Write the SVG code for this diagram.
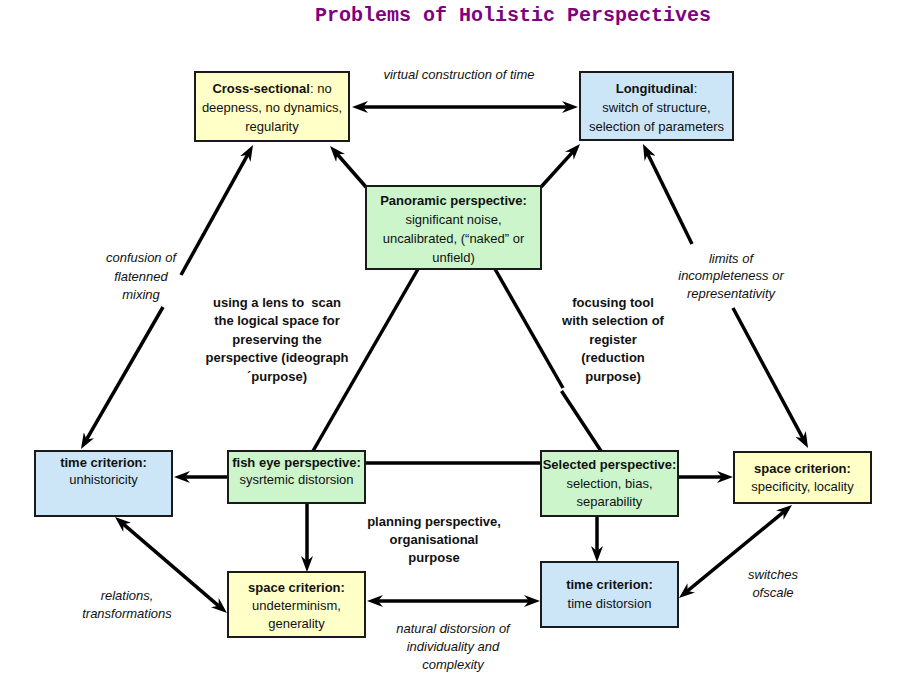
<svg xmlns="http://www.w3.org/2000/svg" width="908" height="700" viewBox="0 0 908 700">
<style>
  .box { stroke: #1a1a1a; stroke-width: 2; }
  .yel { fill: #ffffc8; }
  .blu { fill: #cce6f8; }
  .grn { fill: #ccf5cc; }
  text { font-family: "Liberation Sans", Arial, sans-serif; font-size: 13px; fill: #111; text-anchor: middle; }
  .b { font-weight: bold; }
  .i { font-style: italic; }
  .title { font-family: "Liberation Mono", "Courier New", monospace; font-size: 20px; font-weight: bold; fill: #800080; }
  .ln { stroke: #000; stroke-width: 3.5; fill: none; }
  .a2 { marker-start: url(#ah); marker-end: url(#ah); }
  .a1 { marker-end: url(#ah); }
</style>
<defs>
  <marker id="ah" viewBox="0 0 16 12" refX="10" refY="6" markerWidth="16" markerHeight="12" markerUnits="userSpaceOnUse" orient="auto-start-reverse">
    <path d="M0,0 L16,6 L0,12 L5,6 z" fill="#000"/>
  </marker>
</defs>
<rect width="908" height="700" fill="#fff"/>
<text class="title" x="513" y="21">Problems of Holistic Perspectives</text>

<g id="connectors">
  <line class="ln a2" x1="358" y1="107" x2="572" y2="107"/>
  <line class="ln a1" x1="366" y1="187" x2="334" y2="150.5"/>
  <line class="ln a1" x1="541" y1="187" x2="576" y2="148.4"/>
  <line class="ln a1" x1="181" y1="275" x2="250.1" y2="150.3"/>
  <line class="ln a1" x1="163" y1="307" x2="84" y2="443.8"/>
  <line class="ln a1" x1="692" y1="244" x2="645.6" y2="149.4"/>
  <line class="ln a1" x1="733" y1="308" x2="805.2" y2="442.7"/>
  <line class="ln a1" x1="228" y1="477" x2="180" y2="477"/>
  <line class="ln" x1="365" y1="463" x2="541" y2="463"/>
  <line class="ln a1" x1="678" y1="477" x2="727" y2="477"/>
  <line class="ln a1" x1="307" y1="503" x2="307" y2="566"/>
  <line class="ln a1" x1="597" y1="516" x2="597" y2="556"/>
  <line class="ln a2" x1="119.6" y1="520.9" x2="222.4" y2="609.1"/>
  <line class="ln a2" x1="373" y1="601" x2="534" y2="601"/>
  <line class="ln a2" x1="683.6" y1="594.2" x2="787.4" y2="508.8"/>
  <line class="ln" x1="418" y1="269" x2="313" y2="451"/>
  <line class="ln" x1="495" y1="269" x2="563" y2="388"/>
  <line class="ln" x1="561.5" y1="391" x2="601" y2="451"/>
</g>

<g id="cross">
  <rect class="box yel" x="195" y="72" width="154" height="69"/>
  <text x="272" y="93"><tspan class="b">Cross-sectional</tspan>: no</text>
  <text x="272" y="112">deepness, no dynamics,</text>
  <text x="272" y="131">regularity</text>
</g>
<g id="longitudinal">
  <rect class="box blu" x="580" y="72" width="153" height="68"/>
  <text x="656.5" y="93"><tspan class="b">Longitudinal</tspan>:</text>
  <text x="656.5" y="112">switch of structure,</text>
  <text x="656.5" y="131">selection of parameters</text>
</g>
<g id="panoramic">
  <rect class="box grn" x="366" y="186" width="175" height="83"/>
  <text class="b" x="453.5" y="205">Panoramic perspective:</text>
  <text x="453.5" y="224">significant noise,</text>
  <text x="453.5" y="243">uncalibrated, (“naked” or</text>
  <text x="453.5" y="262">unfield)</text>
</g>
<g id="timeL">
  <rect class="box blu" x="35" y="451" width="137" height="65"/>
  <text class="b" x="103.5" y="467">time criterion:</text>
  <text x="103.5" y="484">unhistoricity</text>
</g>
<g id="fisheye">
  <rect class="box grn" x="228" y="451" width="137" height="52"/>
  <text class="b" x="296.5" y="467">fish eye perspective:</text>
  <text x="296.5" y="484">sysrtemic distorsion</text>
</g>
<g id="selected">
  <rect class="box grn" x="541" y="451" width="137" height="65"/>
  <text class="b" x="609.5" y="469">Selected perspective:</text>
  <text x="609.5" y="488">selection, bias,</text>
  <text x="609.5" y="506">separability</text>
</g>
<g id="spaceR">
  <rect class="box yel" x="734" y="452" width="137" height="51"/>
  <text class="b" x="802.5" y="473">space criterion:</text>
  <text x="802.5" y="491">specificity, locality</text>
</g>
<g id="spaceL">
  <rect class="box yel" x="228" y="572" width="137" height="65"/>
  <text class="b" x="296.5" y="592">space criterion:</text>
  <text x="296.5" y="610">undeterminism,</text>
  <text x="296.5" y="628">generality</text>
</g>
<g id="timeR">
  <rect class="box blu" x="541" y="562" width="137" height="65"/>
  <text class="b" x="609.5" y="589">time criterion:</text>
  <text x="609.5" y="608">time distorsion</text>
</g>

<g id="labels">
  <text class="i" x="459" y="79">virtual construction of time</text>
  <text class="i" x="141" y="262">confusion of</text>
  <text class="i" x="141" y="281">flatenned</text>
  <text class="i" x="141" y="299">mixing</text>
  <text class="i" x="731" y="263">limits of</text>
  <text class="i" x="731" y="280">incompleteness or</text>
  <text class="i" x="731" y="298">representativity</text>
  <text class="b" x="277" y="307" xml:space="preserve">using a lens to  scan</text>
  <text class="b" x="277" y="325">the logical space for</text>
  <text class="b" x="277" y="344">preserving the</text>
  <text class="b" x="277" y="362">perspective (ideograph</text>
  <text class="b" x="277" y="381">´purpose)</text>
  <text class="b" x="613" y="307">focusing tool</text>
  <text class="b" x="613" y="325">with selection of</text>
  <text class="b" x="613" y="344">register</text>
  <text class="b" x="613" y="362">(reduction</text>
  <text class="b" x="613" y="381">purpose)</text>
  <text class="b" x="434" y="526">planning perspective,</text>
  <text class="b" x="434" y="544">organisational</text>
  <text class="b" x="434" y="562">purpose</text>
  <text class="i" x="127" y="600">relations,</text>
  <text class="i" x="127" y="618">transformations</text>
  <text class="i" x="453" y="633">natural distorsion of</text>
  <text class="i" x="453" y="651">individuality and</text>
  <text class="i" x="453" y="669">complexity</text>
  <text class="i" x="773" y="579">switches</text>
  <text class="i" x="773" y="597">ofscale</text>
</g>
</svg>
